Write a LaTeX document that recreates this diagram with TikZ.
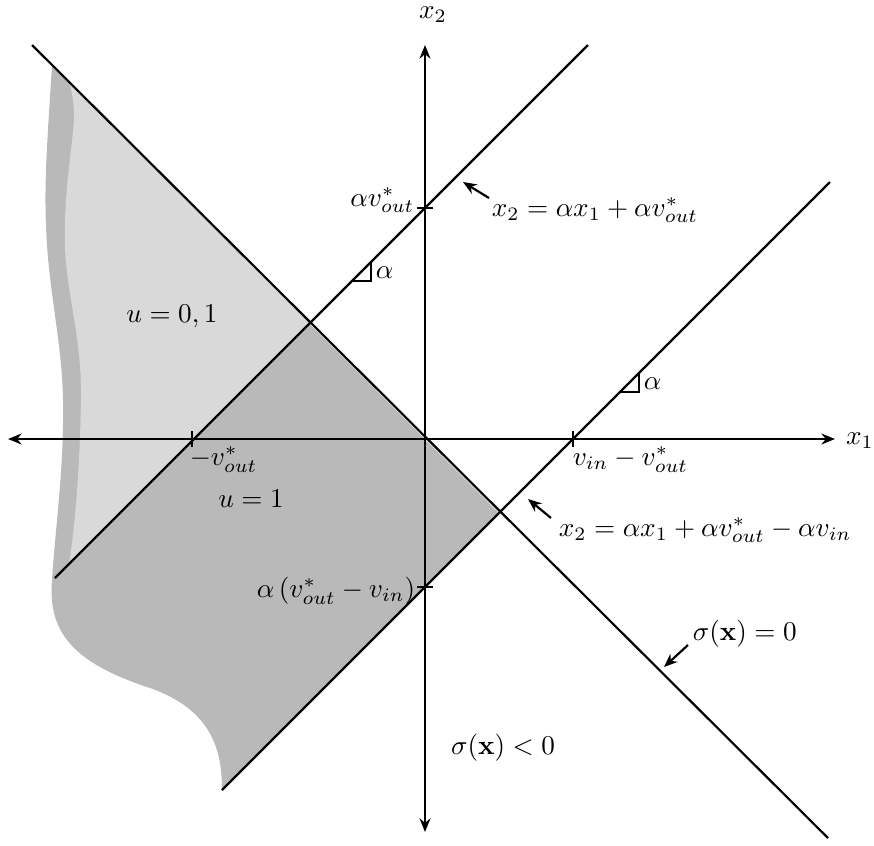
\documentclass[tikz,border=0pt]{standalone}
\usetikzlibrary{arrows.meta}
\definecolor{darkreg}{gray}{0.725}
\definecolor{lightreg}{gray}{0.85}
\begin{document}
\begin{tikzpicture}[x=0.368pt,y=-0.368pt, line width=0.8pt,
  >={Stealth[length=5pt,width=4pt]},
  lbl/.style={inner sep=1pt},
  pointer/.style={->, line width=0.8pt}]
\useasboundingbox (0,0) rectangle (874,845);
% coordinates
\coordinate (O) at (425,439);
\coordinate (xl) at (8,439);
\coordinate (xr) at (835,439);
\coordinate (yb) at (425,832);
\coordinate (yt) at (425,45);
\coordinate (s1) at (32,45);
\coordinate (s2) at (828,838);
\coordinate (u1) at (55,578);
\coordinate (u2) at (588,45);
\coordinate (l1) at (222,790);
\coordinate (l2) at (830,182);
\coordinate (pu) at (309.5,323.5);
\coordinate (pl) at (499,513);
\coordinate (tA) at (192,439);
\coordinate (tB) at (573,439);
\coordinate (tC) at (425,208);
\coordinate (tD) at (425,587);
% regions
\fill[darkreg] (52,66) .. controls (48,130) and (44,180) .. (46,225)
  .. controls (48,290) and (62,340) .. (63,400)
  .. controls (64,470) and (56,520) .. (52,580)
  .. controls (48,630) and (70,662) .. (150,688)
  .. controls (212,710) and (222,750) .. (l1) -- (pl) -- cycle;
\fill[lightreg] (70,84) -- (pu) -- (69,564)
  .. controls (76,520) and (80,460) .. (81,400)
  .. controls (82,340) and (68,300) .. (65,250)
  .. controls (63,190) and (74,140) .. (74,115)
  .. controls (74,100) and (71,90) .. (70,84) -- cycle;
% lines
\draw (s1) -- (s2);
\draw (u1) -- (u2);
\draw (l1) -- (l2);
\draw[<->] (xl) -- (xr);
\draw[<->] (yb) -- (yt);
% ticks
\draw ([yshift=-3pt]tA) -- ([yshift=3pt]tA);
\draw ([yshift=-3pt]tB) -- ([yshift=3pt]tB);
\draw ([xshift=-3pt]tC) -- ([xshift=3pt]tC);
\draw ([xshift=-3pt]tD) -- ([xshift=3pt]tD);
% angle markers
\draw[line width=0.6pt] (353,281) -- (371,281) -- (371,263);
\draw[line width=0.6pt] (621,392) -- (639,392) -- (639,374);
\node[lbl, anchor=west] (a1) at (372,273) {$\alpha$};
\node[lbl, anchor=west] (a2) at (640,384) {$\alpha$};
% axis labels
\node[lbl] (x2l) at (433,15) {$x_2$};
\node[lbl] (x1l) at (860,441) {$x_1$};
% tick labels
\node[lbl, anchor=east] (lC) at (418,200) {$\alpha v^*_{out}$};
\node[lbl, anchor=north west] (lA) at (186,443) {$-v^*_{out}$};
\node[lbl, anchor=north west] (lB) at (569,443) {$v_{in}-v^*_{out}$};
\node[lbl, anchor=east] (lD) at (419,591) {$\alpha\left(v^*_{out}-v_{in}\right)$};
% line labels
\node[lbl, anchor=west] (e1) at (488,210) {$x_2=\alpha x_1+\alpha v^*_{out}$};
\coordinate (e1t) at (463,182);
\draw[pointer] (489,198) -- (e1t);
\node[lbl, anchor=west] (e2) at (555,530) {$x_2=\alpha x_1+\alpha v^*_{out}-\alpha v_{in}$};
\coordinate (e2t) at (528,499);
\draw[pointer] (551,518) -- (e2t);
\node[lbl, anchor=west] (e3) at (689,634) {$\sigma(\mathbf{x})=0$};
\coordinate (e3t) at (664,667);
\draw[pointer] (688,645) -- (e3t);
% region labels
\node[lbl] (r1) at (172,316) {$u=0,1$};
\node[lbl] (r2) at (251,499) {$u=1$};
\node[lbl] (r3) at (503,748) {$\sigma(\mathbf{x})<0$};
\end{tikzpicture}
\end{document}
